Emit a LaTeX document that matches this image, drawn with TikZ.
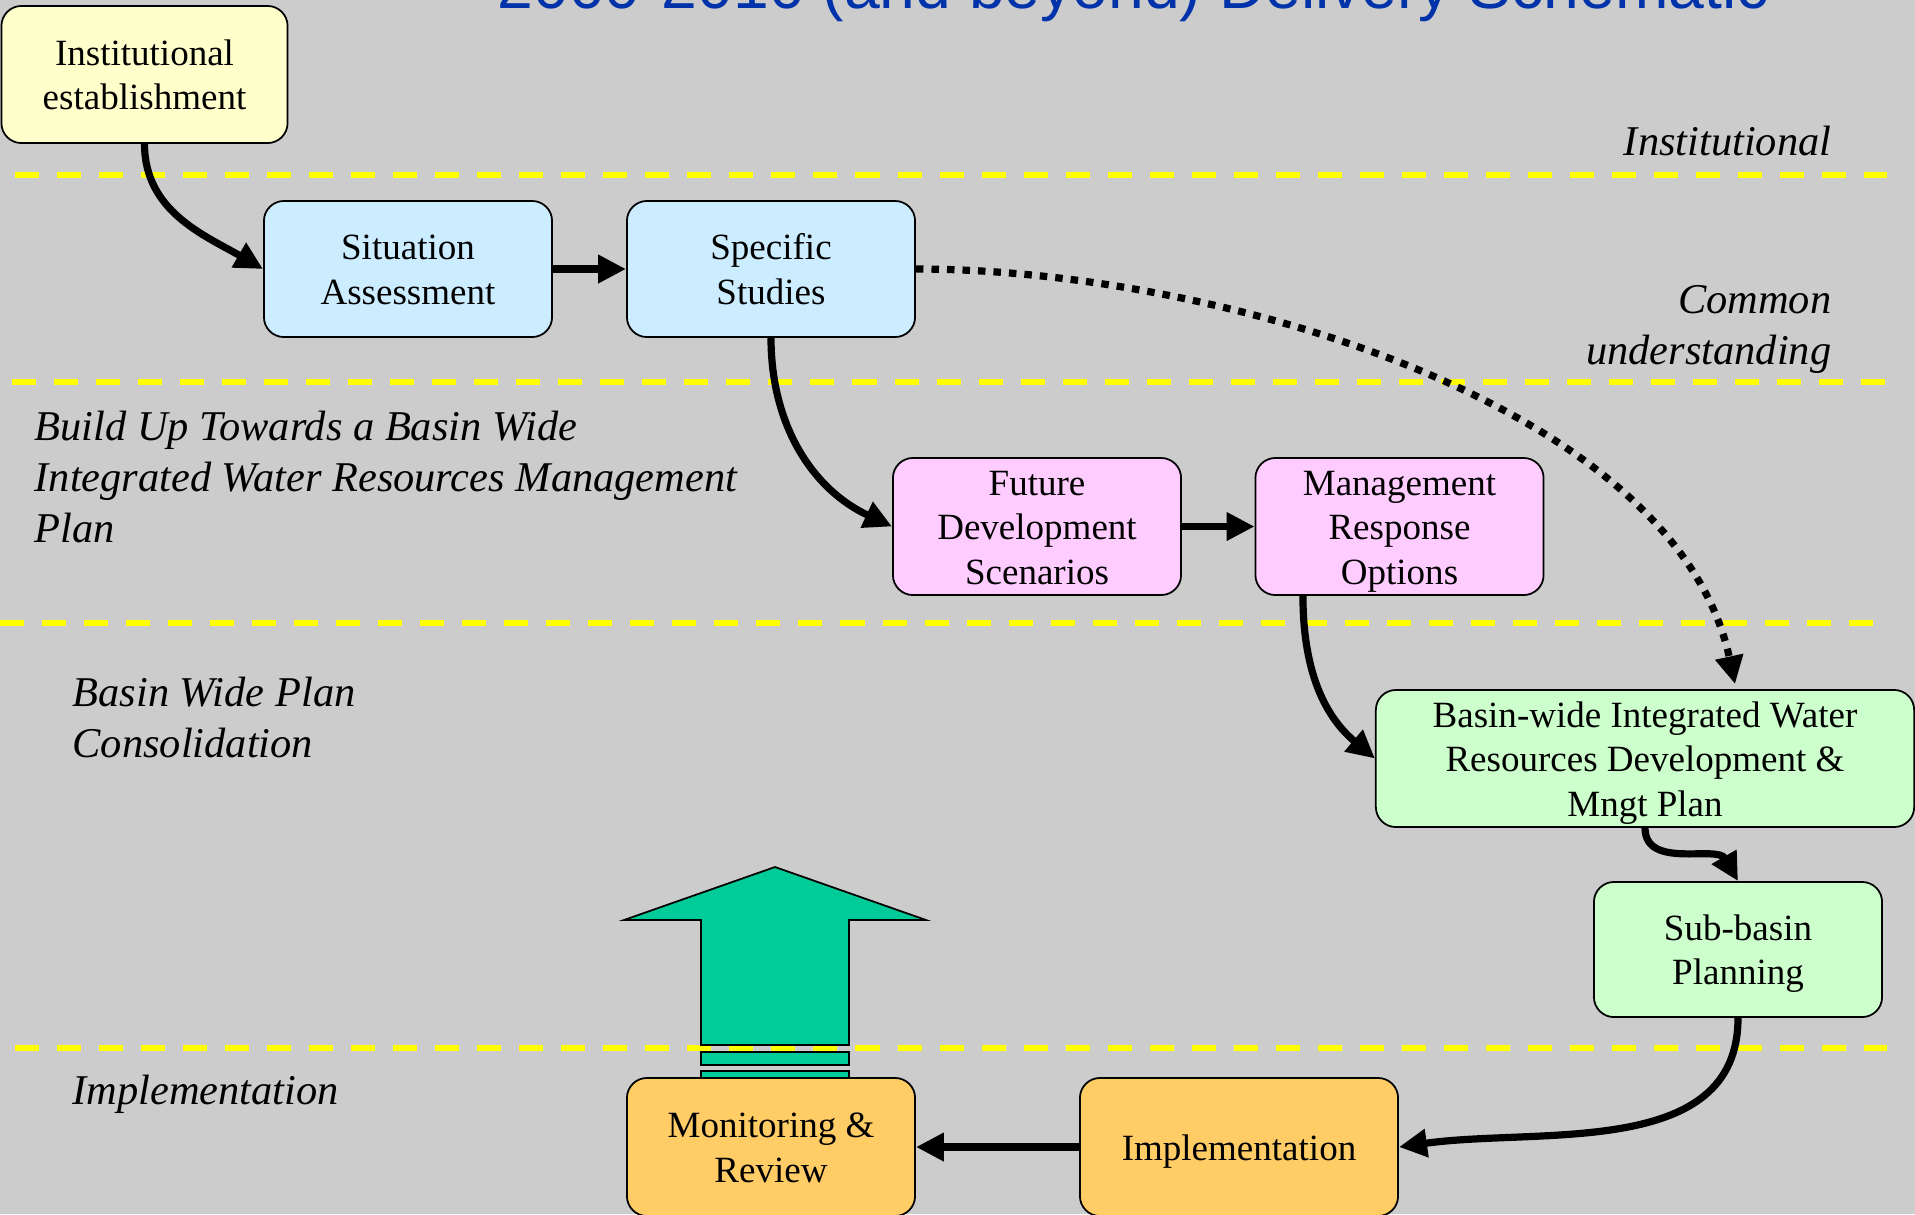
\documentclass[tikz,border=0pt]{standalone}
\usepackage{fontspec}
\setmainfont{Liberation Serif}
\newfontfamily\titlefont{Liberation Sans}
\usetikzlibrary{arrows.meta}
\definecolor{bg}{RGB}{204,204,204}
\definecolor{titleblue}{RGB}{0,51,170}
\definecolor{cyellow}{RGB}{255,255,204}
\definecolor{cblue}{RGB}{204,236,255}
\definecolor{cpink}{RGB}{255,204,255}
\definecolor{cgreen}{RGB}{204,255,204}
\definecolor{corange}{RGB}{255,204,102}
\definecolor{arrowgreen}{RGB}{0,204,153}
\definecolor{lineyellow}{RGB}{255,255,0}
\newcommand{\bxstrut}{\rule[-2.63pt]{0pt}{12.66pt}}
\begin{document}
\begin{tikzpicture}[x=0.01cm,y=-0.01cm,
  box/.style={draw=black, line width=0.5pt, rounded corners=0.2cm, align=center, inner sep=0pt,
     minimum height=1.36cm, minimum width=2.88cm, font=\fontsize{10.53}{12.66}\selectfont,
     execute at begin node=\bxstrut, execute at end node=\bxstrut},
  lbl/.style={inner sep=0pt, font=\fontsize{12.06}{14.5}\selectfont\itshape},
  conn/.style={line width=0.072cm, -{Triangle[length=0.28cm,width=0.27cm]}},
  dotconn/.style={conn, dash pattern=on 0.075cm off 0.08cm},
  sep/.style={lineyellow, line width=0.06cm, dash pattern=on 0.24cm off 0.18cm},
  bigarrow/.style={draw=black, line width=0.5pt, fill=arrowgreen},
]
\clip (0,0) rectangle (1915,1214);
\fill[bg] (0,0) rectangle (1915,1214);

% title
\node[anchor=base west, inner sep=0pt, font=\titlefont\fontsize{18.27}{22}\selectfont, text=titleblue]
  (title) at (497,8) {2000-2010 (and beyond) Delivery Schematic};

% separators
\draw[sep] (15,175) -- (1887,175);
\draw[sep] (12,382) -- (1887,382);
\draw[sep] (0,623) -- (1887,623);
\draw[sep] (15,1048) -- (1887,1048);

% labels (base anchor = baseline of the last line)
\node[lbl, anchor=base east] (lInst) at (1832,155) {Institutional};
\node[lbl, anchor=base east, align=right] (lCommon) at (1832,364) {Common\\understanding};
\node[lbl, anchor=base west, align=left] (lBuild) at (34,542) {Build Up Towards a Basin Wide\\Integrated Water Resources Management\\Plan};
\node[lbl, anchor=base west, align=left] (lBasin) at (72,757) {Basin Wide Plan\\Consolidation};
\node[lbl, anchor=base west] (lImpl) at (72,1104) {Implementation};

% big green arrow
\draw[bigarrow] (701,1045) -- (701,920) -- (624,920) -- (775,867) -- (926,920) -- (849,920) -- (849,1045) -- cycle;
\draw[bigarrow] (701,1052) rectangle (849,1065);
\draw[bigarrow] (701,1071) rectangle (849,1079);

% boxes
\node[box, fill=cyellow, minimum width=2.86cm, minimum height=1.37cm] (inst) at (144.5,74.5) {\bxstrut Institutional\\establishment};
\node[box, fill=cblue] (sit) at (408,269) {\bxstrut Situation\\Assessment};
\node[box, fill=cblue] (spec) at (771,269) {\bxstrut Specific\\Studies};
\node[box, fill=cpink, minimum height=1.37cm] (fut) at (1037,526.5) {\bxstrut Future\\Development\\Scenarios};
\node[box, fill=cpink, minimum height=1.37cm] (mgmt) at (1399.5,526.5) {\bxstrut Management\\Response\\Options};
\node[box, fill=cgreen, minimum width=5.38cm, minimum height=1.37cm] (basin) at (1645,758.5) {\bxstrut Basin-wide Integrated Water\\Resources Development \&\\Mngt Plan};
\node[box, fill=cgreen, minimum height=1.35cm] (sub) at (1738,949.5) {\bxstrut Sub-basin\\Planning};
\node[box, fill=corange, minimum height=1.38cm] (mon) at (771,1147) {\bxstrut Monitoring \&\\Review};
\node[box, fill=corange, minimum width=3.18cm, minimum height=1.38cm] (impl) at (1239,1147) {Implementation};

% connectors
\draw[conn] (inst.south) to[out=-90,in=150] (sit.west);
\draw[conn] (sit.east) -- (spec.west);
\draw[conn] (spec.south) to[out=-90,in=155] (fut.west);
\draw[conn] (fut.east) -- (mgmt.west);
\draw[conn] ([xshift=-0.965cm]mgmt.south) to[out=-90,in=140] (basin.west);
\draw[dotconn] (spec.east) .. controls +(300,0) and +(-60,-280) .. ([xshift=0.9cm,yshift=0.05cm]basin.north);
\draw[conn] (basin.south) to[out=-90,in=120] (sub.north);
\draw[conn] (sub.south) to[out=-90,in=8] (impl.east);
\draw[conn] (impl.west) -- (mon.east);
\end{tikzpicture}
\end{document}
